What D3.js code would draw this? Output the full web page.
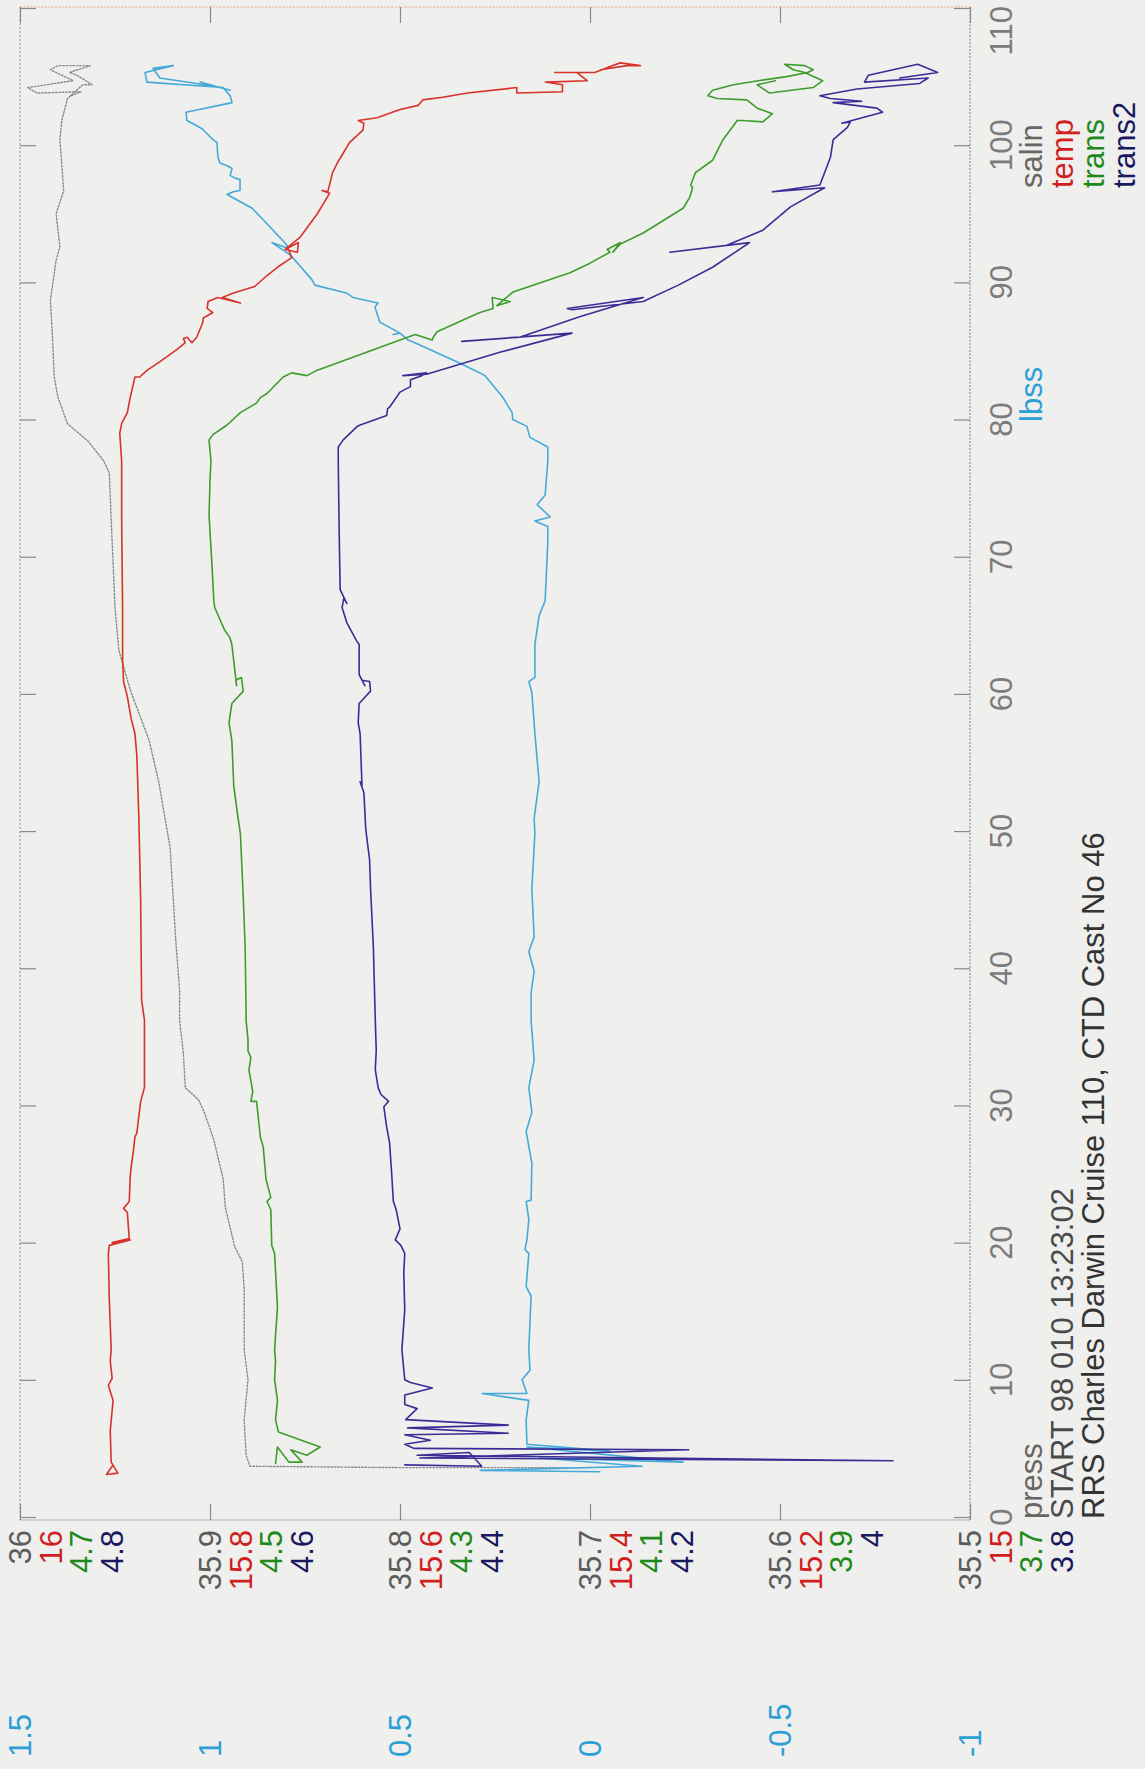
<!DOCTYPE html>
<html>
<head>
<meta charset="utf-8">
<script src="https://cdn.jsdelivr.net/npm/d3@7"></script>
<style>
  body { margin: 0; background: #efefed; }
  svg { display: block; }
  text { font-family: "Liberation Sans", Arial, Helvetica, sans-serif; }
</style>
</head>
<body>
<svg id="chart" width="1145" height="1769"></svg>
<script>
// CTD cast profile: pressure (dbar) against salinity, temperature,
// two transmissometers and light backscatter (lbss).

const pressTicks  = [0, 10, 20, 30, 40, 50, 60, 70, 80, 90, 100, 110];
const salinTicks  = [36, 35.9, 35.8, 35.7, 35.6, 35.5];
const tempTicks   = [16, 15.8, 15.6, 15.4, 15.2, 15];
const transTicks  = [4.7, 4.5, 4.3, 4.1, 3.9, 3.7];
const trans2Ticks = [4.8, 4.6, 4.4, 4.2, 4, 3.8];
const lbssTicks   = [1.5, 1, 0.5, 0, -0.5, -1];

const seriesNames = ["salin", "temp", "trans", "trans2"];

// [press, value]
const salin = [
  [3.6,35.712],[3.6,35.800],[3.7,35.879],[4.5,35.881],[7.1,35.882],[10.0,35.880],[12.2,35.882],
  [16.6,35.882],[18.6,35.883],[19.7,35.887],[22.6,35.892],[24.6,35.893],[27.5,35.898],[29.5,35.903],
  [30.4,35.906],[31.3,35.913],[33.8,35.914],[36.2,35.916],[38.4,35.916],[42.0,35.918],[48.8,35.921],
  [53.6,35.927],[56.6,35.932],[60.3,35.942],[63.2,35.948],[66.3,35.950],[72.7,35.952],[76.1,35.953],
  [77.0,35.956],[78.4,35.964],[79.7,35.975],[81.6,35.980],[83.1,35.982],[86.3,35.983],[88.7,35.984],
  [91.6,35.981],[92.6,35.979],[95.0,35.981],[96.7,35.977],[100.4,35.979],[101.8,35.978],[103.4,35.975],
  [104.4,35.967],[104.4,35.962],[105.1,35.970],[105.3,35.974],[105.8,35.963],[105.8,35.980],[105.5,35.984],
  [104.7,35.972],[104.2,35.996],[103.8,35.991],[103.9,35.968],[103.6,35.973]
];

const temp = [
  [3.7,15.903],[3.1,15.909],[3.2,15.897],[4.0,15.904],[6.3,15.905],[8.5,15.902],[9.6,15.907],[10.1,15.903],
  [11.4,15.905],[12.2,15.904],[15.8,15.906],[19.2,15.907],[19.8,15.906],[20.2,15.884],[20.0,15.903],
  [20.3,15.885],[22.2,15.887],[22.5,15.891],[23.0,15.885],[24.8,15.884],[25.5,15.883],[26.5,15.881],
  [27.7,15.879],[28.0,15.877],[30.3,15.873],[31.3,15.869],[36.2,15.869],[37.7,15.872],[45.0,15.873],
  [51.2,15.875],[55.5,15.877],[57.1,15.879],[58.2,15.883],[59.8,15.887],[60.9,15.891],[62.5,15.892],
  [66.3,15.892],[72.7,15.893],[77.0,15.893],[79.0,15.895],[79.7,15.893],[80.5,15.887],[81.6,15.884],
  [83.1,15.879],[83.1,15.874],[83.6,15.866],[84.2,15.853],[85.1,15.835],[85.6,15.826],[85.9,15.828],
  [86.0,15.824],[85.6,15.819],[86.0,15.814],[87.0,15.808],[87.4,15.807],[87.8,15.797],[88.1,15.803],
  [88.6,15.802],[88.9,15.792],[88.5,15.768],[88.9,15.787],[89.2,15.776],[89.7,15.753],[90.5,15.740],
  [91.1,15.729],[91.8,15.714],[92.5,15.718],[92.9,15.707],[92.2,15.708],[92.4,15.721],[93.3,15.705],
  [95.0,15.687],[96.5,15.674],[96.7,15.682],[96.6,15.676],[98.0,15.671],[98.7,15.666],[100.2,15.653],
  [101.1,15.639],[101.6,15.638],[101.8,15.644],[102.0,15.624],[102.6,15.600],[102.9,15.581],[103.3,15.576],
  [103.5,15.555],[103.8,15.529],[104.2,15.477],[103.8,15.477],[103.9,15.429],[104.4,15.429],[104.6,15.447],
  [104.7,15.403],[105.3,15.414],[105.3,15.437],[105.3,15.418],[105.3,15.395],[105.8,15.376],[106.0,15.368],
  [105.8,15.347],[105.8,15.361],[105.5,15.389]
];

const trans = [
  [3.9,4.431],[5.1,4.429],[4.0,4.417],[4.0,4.403],[4.9,4.415],[4.5,4.398],[5.1,4.384],[6.2,4.428],
  [7.1,4.431],[8.5,4.429],[10.0,4.432],[11.4,4.431],[12.2,4.432],[15.3,4.429],[19.2,4.432],[19.8,4.435],
  [22.4,4.436],[23.0,4.440],[23.3,4.436],[24.6,4.441],[27.0,4.444],[27.7,4.447],[30.3,4.451],[30.3,4.457],
  [31.0,4.455],[32.6,4.459],[33.5,4.457],[34.0,4.460],[34.8,4.460],[36.2,4.462],[36.9,4.462],[41.5,4.463],
  [45.2,4.465],[49.8,4.468],[51.2,4.471],[53.3,4.475],[56.6,4.477],[57.9,4.480],[59.3,4.477],[60.2,4.465],
  [61.2,4.467],[61.0,4.473],[60.6,4.472],[63.6,4.477],[64.1,4.479],[64.7,4.485],[66.3,4.495],[66.8,4.496],
  [69.5,4.498],[73.0,4.501],[75.6,4.500],[77.0,4.499],[78.5,4.501],[78.9,4.497],[79.6,4.482],[80.5,4.468],
  [81.2,4.451],[81.6,4.447],[81.9,4.440],[83.1,4.423],[83.4,4.414],[83.2,4.398],[83.6,4.387],[85.8,4.300],
  [86.2,4.284],[85.8,4.266],[86.0,4.265],[86.4,4.261],[87.8,4.216],[88.1,4.202],[88.9,4.203],[88.6,4.184],
  [88.3,4.198],[89.3,4.181],[90.7,4.121],[91.4,4.100],[92.2,4.079],[92.4,4.082],[92.9,4.068],[92.2,4.076],
  [92.8,4.068],[93.6,4.044],[95.4,4.002],[96.2,3.995],[96.9,3.992],[97.1,3.994],[98.0,3.989],[98.9,3.971],
  [100.4,3.960],[101.8,3.945],[101.8,3.939],[101.7,3.918],[102.3,3.908],[102.7,3.924],[103.3,3.935],
  [103.4,3.966],[103.6,3.976],[104.0,3.971],[104.4,3.949],[104.7,3.923],[105.0,3.893],[105.3,3.871],
  [105.5,3.865],[105.8,3.874],[105.9,3.895],[105.5,3.886],[105.3,3.874],[104.7,3.855],[104.2,3.865],
  [103.8,3.911],[104.4,3.924],[104.7,3.905]
];

const trans2 = [
  [3.8,4.395],[3.7,4.314],[4.7,4.327],[4.5,4.382],[4.1,3.881],[4.3,4.379],[4.9,4.096],[5.0,4.385],
  [5.3,4.395],[5.6,4.368],[6.0,4.395],[6.1,4.286],[6.5,4.392],[6.7,4.286],[7.1,4.394],[7.9,4.382],
  [8.2,4.395],[8.9,4.395],[9.4,4.366],[9.8,4.389],[10.0,4.395],[12.2,4.398],[15.1,4.395],[17.8,4.396],
  [19.2,4.395],[19.8,4.399],[20.2,4.405],[21.0,4.400],[22.4,4.404],[23.0,4.407],[25.3,4.409],[27.3,4.411],
  [28.4,4.414],[29.9,4.417],[30.3,4.412],[30.8,4.420],[31.3,4.423],[32.6,4.426],[34.0,4.425],[36.2,4.426],
  [41.5,4.428],[45.8,4.431],[47.9,4.432],[50.1,4.436],[52.8,4.438],[53.6,4.442],[53.3,4.440],[57.1,4.442],
  [57.9,4.444],[59.3,4.443],[60.2,4.431],[60.9,4.432],[61.0,4.440],[60.6,4.437],[61.4,4.443],[63.6,4.443],
  [63.9,4.446],[65.2,4.456],[66.3,4.461],[67.0,4.459],[66.6,4.456],[67.6,4.463],[71.7,4.464],[77.0,4.465],
  [78.0,4.465],[78.5,4.460],[79.5,4.445],[79.6,4.442],[80.3,4.414],[80.8,4.413],[80.9,4.411],[82.0,4.400],
  [82.4,4.389],[82.9,4.389],[83.2,4.377],[83.4,4.372],[83.2,4.397],[83.3,4.372],[84.9,4.295],[86.3,4.219],
  [85.7,4.335],[86.0,4.274],[87.5,4.211],[88.9,4.144],[88.1,4.224],[88.0,4.219],[88.6,4.144],[89.8,4.107],
  [91.1,4.071],[92.9,4.032],[92.2,4.116],[92.7,4.056],[93.8,4.018],[95.5,3.989],[96.9,3.953],[96.6,4.008],
  [97.1,3.958],[99.1,3.947],[100.4,3.944],[101.3,3.929],[101.7,3.926],[101.6,3.935],[102.4,3.892],
  [102.7,3.898],[103.1,3.944],[103.2,3.914],[103.4,3.947],[103.6,3.958],[104.1,3.919],[104.5,3.853],
  [104.9,3.844],[104.6,3.911],[105.1,3.907],[105.5,3.881],[105.9,3.855],[105.3,3.834],[104.9,3.874]
];

const lbss = [
  [3.3,-0.026],[3.4,0.289],[3.7,-0.137],[4.3,0.132],[4.0,-0.245],[5.1,0.166],[4.8,-0.053],[5.3,0.166],
  [7.1,0.168],[8.5,0.161],[9.0,0.284],[9.0,0.166],[10.0,0.179],[10.7,0.158],[12.2,0.161],[16.1,0.155],
  [16.8,0.168],[19.2,0.161],[19.5,0.171],[20.2,0.166],[21.7,0.161],[23.0,0.168],[23.1,0.155],[25.8,0.153],
  [28.1,0.168],[29.5,0.153],[31.3,0.161],[33.3,0.147],[36.2,0.155],[38.2,0.155],[39.8,0.147],[41.2,0.161],
  [42.3,0.147],[45.8,0.153],[49.8,0.145],[50.9,0.147],[53.6,0.134],[57.1,0.145],[60.1,0.153],[60.9,0.161],
  [61.2,0.145],[63.6,0.145],[65.7,0.134],[66.8,0.118],[71.1,0.111],[72.2,0.111],[72.6,0.145],[72.9,0.105],
  [73.8,0.139],[74.5,0.118],[77.0,0.111],[78.0,0.111],[78.7,0.158],[79.5,0.166],[80.0,0.203],[80.5,0.205],
  [81.6,0.229],[83.2,0.276],[84.1,0.342],[85.6,0.461],[85.8,0.479],[86.3,0.500],[86.2,0.518],[86.3,0.500],
  [87.1,0.553],[88.2,0.566],[88.5,0.558],[88.9,0.624],[89.2,0.639],[89.8,0.724],[90.2,0.732],[91.8,0.782],
  [92.0,0.789],[92.9,0.837],[92.5,0.797],[92.7,0.797],[93.8,0.834],[95.4,0.889],[96.4,0.955],[96.6,0.939],
  [96.7,0.921],[97.5,0.921],[97.6,0.934],[97.8,0.947],[98.3,0.942],[98.5,0.955],[98.7,0.974],[99.1,0.979],
  [100.2,0.982],[100.4,0.992],[101.2,1.021],[101.6,1.047],[101.8,1.061],[102.4,1.063],[103.1,0.942],
  [103.6,0.947],[104.2,0.966],[104.6,1.166],[105.3,1.171],[105.8,1.097],[105.6,1.150],[104.9,1.132],
  [104.3,0.987],[104.0,0.947],[104.6,1.026]
];

// ---- layout ----
const frame = { left: 20, right: 970, top: 7, bottom: 1520 };
const rowStep = 30.7;          // spacing between stacked label lines
const capShift = 11;           // centre of rotated glyphs -> baseline
const fontSize = 31;

const svg = d3.select("#chart");
svg.append("rect").attr("width", 1145).attr("height", 1769).attr("fill", "#efefed");

const y = d3.scaleLinear().domain([0, 110]).range([1517, 8]);
const xScale = {
  salin:  d3.scaleLinear().domain([36, 35.5]).range([frame.left, frame.right]),
  temp:   d3.scaleLinear().domain([16, 15]).range([frame.left, frame.right]),
  trans:  d3.scaleLinear().domain([4.7, 3.7]).range([frame.left, frame.right]),
  trans2: d3.scaleLinear().domain([4.8, 3.8]).range([frame.left, frame.right]),
  lbss:   d3.scaleLinear().domain([1.5, -1]).range([frame.left, frame.right])
};

const style = {
  salin:  { stroke: "#8a8a8a", width: 1.4, dash: "1.6 1.8", label: "#5c5c5c" },
  temp:   { stroke: "#d8322a", width: 1.6, dash: null, label: "#cf1f1f" },
  trans:  { stroke: "#3e9d2c", width: 1.6, dash: null, label: "#1f8a1c" },
  trans2: { stroke: "#3a2e96", width: 1.6, dash: null, label: "#1a1860" },
  lbss:   { stroke: "#45a9da", width: 1.6, dash: null, label: "#2c9fd6" }
};

// ---- frame (dotted plotter lines) ----
const frameG = svg.append("g").attr("fill", "none").attr("stroke-width", 1.2);
frameG.append("line").attr("x1", frame.left).attr("x2", frame.right)
  .attr("y1", frame.top).attr("y2", frame.top)
  .attr("stroke", "#f0a47e").attr("stroke-dasharray", "2 1.5");
frameG.append("line").attr("x1", frame.left).attr("x2", frame.right)
  .attr("y1", frame.bottom).attr("y2", frame.bottom)
  .attr("stroke", "#8d8d8d").attr("stroke-dasharray", "2 1.2");
frameG.append("line").attr("x1", frame.left).attr("x2", frame.left)
  .attr("y1", frame.top).attr("y2", frame.bottom)
  .attr("stroke", "#9a9a9a").attr("stroke-dasharray", "2 2");
frameG.append("line").attr("x1", frame.right).attr("x2", frame.right)
  .attr("y1", frame.top).attr("y2", frame.bottom)
  .attr("stroke", "#8d8d8d").attr("stroke-dasharray", "2 1.5");

// ---- inward ticks on all four sides ----
function tickStyle(g) {
  g.select(".domain").remove();
  g.selectAll(".tick line").attr("stroke", "#8a8a8a").attr("stroke-width", 1.2);
}
svg.append("g").attr("transform", `translate(${frame.right},0)`)
  .call(d3.axisLeft(y).tickValues(pressTicks).tickSize(16).tickFormat(""))
  .call(tickStyle);
svg.append("g").attr("transform", `translate(${frame.left},0)`)
  .call(d3.axisRight(y).tickValues(pressTicks).tickSize(16).tickFormat(""))
  .call(tickStyle);
svg.append("g").attr("transform", `translate(0,${frame.bottom})`)
  .call(d3.axisTop(xScale.salin).tickValues(salinTicks).tickSize(16).tickFormat(""))
  .call(tickStyle);
svg.append("g").attr("transform", `translate(0,${frame.top})`)
  .call(d3.axisBottom(xScale.salin).tickValues(salinTicks).tickSize(16).tickFormat(""))
  .call(tickStyle);

// ---- profiles ----
const lineFor = key => d3.line()
  .x(d => xScale[key](d[1]))
  .y(d => y(d[0]));

const profiles = { salin, temp, trans, trans2, lbss };
const plotG = svg.append("g").attr("fill", "none")
  .attr("stroke-linejoin", "round").attr("stroke-linecap", "round");
["salin", "lbss", "temp", "trans", "trans2"].forEach(key => {
  const s = style[key];
  plotG.append("path")
    .datum(profiles[key])
    .attr("d", lineFor(key))
    .attr("stroke", s.stroke)
    .attr("stroke-width", s.width)
    .attr("stroke-dasharray", s.dash);
});

// ---- rotated text helper (reads bottom to top) ----
function vtext(cx, yy, str, anchor, color) {
  return svg.append("text")
    .attr("transform", `translate(${cx + capShift},${yy}) rotate(-90)`)
    .attr("text-anchor", anchor)
    .attr("font-size", fontSize)
    .attr("fill", color)
    .text(str);
}

// stacked value labels under the bottom edge
const tickSets = { salin: salinTicks, temp: tempTicks, trans: transTicks, trans2: trans2Ticks };
seriesNames.forEach((key, row) => {
  tickSets[key].forEach(v => {
    vtext(xScale[key](v) + row * rowStep, 1530, String(v), "end", style[key].label);
  });
});

// lbss scale along the page foot
lbssTicks.forEach(v => {
  vtext(xScale.lbss(v), 1757, String(v), "start", style.lbss.label);
});

// pressure labels beside the right edge
const pressCol = frame.right + rowStep;
pressTicks.forEach(p => {
  if (p === 110) vtext(pressCol, 6, String(p), "end", "#7c7c7c");
  else vtext(pressCol, y(p), String(p), "middle", "#7c7c7c");
});

// legend
seriesNames.forEach((key, i) => {
  vtext(frame.right + (i + 2) * rowStep, 188, key, "start", style[key].label === "#5c5c5c" ? "#666" : style[key].label);
});
vtext(frame.right + 2 * rowStep, 422, "lbss", "start", style.lbss.label);

// axis title and cast information
vtext(frame.right + 2 * rowStep, 1519, "press", "start", "#666");
vtext(frame.right + 3 * rowStep, 1519, "START 98 010 13:23:02", "start", "#4a4a4a");
vtext(frame.right + 4 * rowStep, 1519, "RRS Charles Darwin Cruise 110, CTD Cast No 46", "start", "#333");
</script>
</body>
</html>
